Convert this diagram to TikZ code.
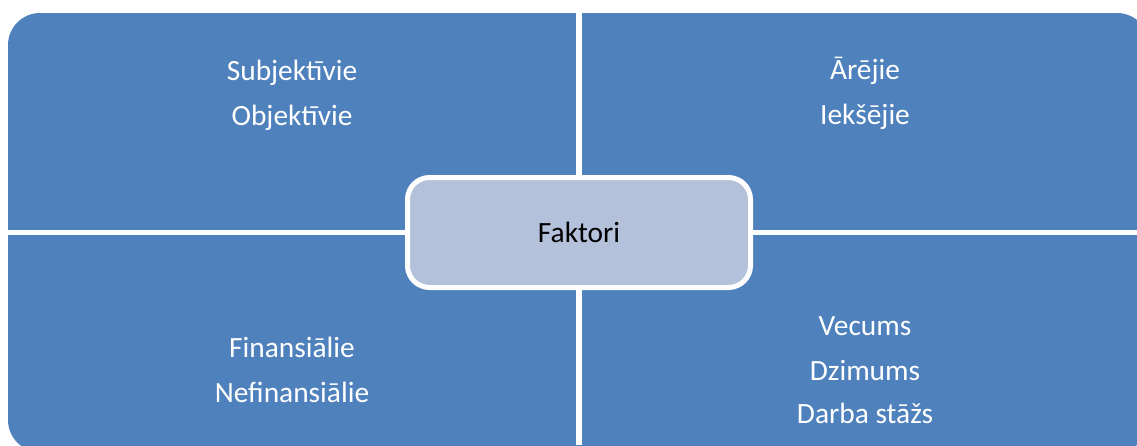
\documentclass[tikz,border=0pt]{standalone}
\usepackage{fontspec}
\setmainfont{Carlito}
\definecolor{quad}{HTML}{4F81BD}
\definecolor{centerfill}{HTML}{B3C1DB}
\tikzset{
  lbl/.style={anchor=base, inner sep=0pt, text=white, font=\fontsize{29.4}{34}\selectfont},
  clbl/.style={anchor=base, inner sep=0pt, text=black, font=\fontsize{29.4}{34}\selectfont},
  hub/.style={draw=white, line width=5pt, fill=centerfill, rounded corners=22pt}
}
\begin{document}
\begin{tikzpicture}[x=1pt,y=-1pt]
\useasboundingbox (0,0) rectangle (1137,445);
\begin{scope}
\clip (0,0) rectangle (1137,445);
\fill[quad, rounded corners=32pt] (8,13) rectangle (1149,452);
\fill[white] (576,0) rectangle (581.5,445);
\fill[white] (0,230) rectangle (1137,235);
\draw[hub] (407.5,177.5) rectangle (750.5,287.5);
\end{scope}
\node[clbl] (faktori) at (579,242) {Faktori};
\node[lbl] (subj) at (292,80) {Subjektīvie};
\node[lbl] (obj) at (292,125) {Objektīvie};
\node[lbl] (arej) at (865,79) {Ārējie};
\node[lbl] (ieks) at (865,124) {Iekšējie};
\node[lbl] (fin) at (292,357) {Finansiālie};
\node[lbl] (nefin) at (292,402) {Nefinansiālie};
\node[lbl] (vec) at (865,335) {Vecums};
\node[lbl] (dzim) at (865,380) {Dzimums};
\node[lbl] (darba) at (865,423) {Darba stāžs};
\end{tikzpicture}
\end{document}
